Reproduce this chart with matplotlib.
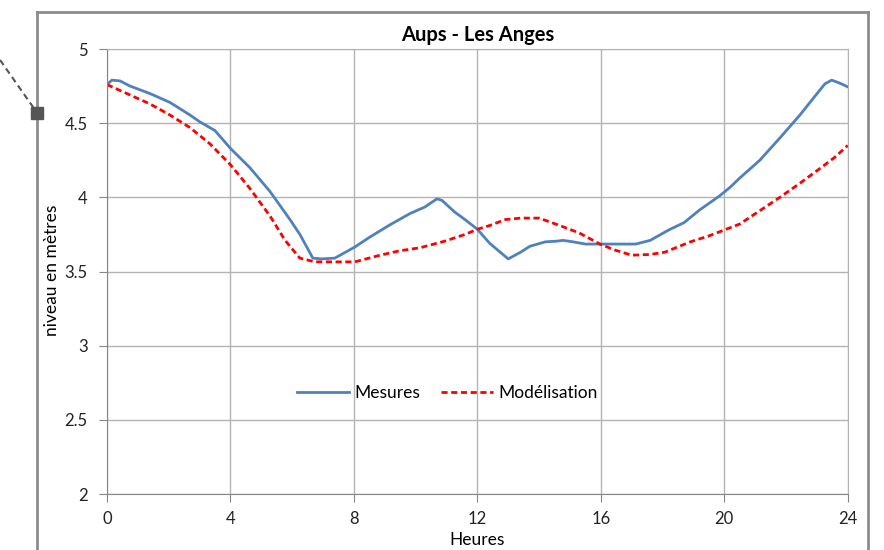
import matplotlib.pyplot as plt
from matplotlib.lines import Line2D

plt.rcParams['font.family'] = ['Lato', 'DejaVu Sans']

# Mesures (heures, niveau)
mes_h = [0, 0.16, 0.42, 0.75, 1.39, 2.04, 2.69, 3.0, 3.5, 4.0, 4.63, 5.28, 5.93, 6.25,
         6.67, 6.96, 7.38, 8.03, 8.5, 9.17, 9.81, 10.3, 10.69, 10.85, 11.27, 11.6, 12.0,
         12.4, 13.0, 13.4, 13.7, 14.2, 14.6, 14.77, 15.1, 15.5, 15.97, 17.13, 17.6, 18.2,
         18.7, 19.2, 19.85, 20.2, 20.5, 21.15, 21.8, 22.45, 22.93, 23.26, 23.48, 23.74, 24.0]
mes_v = [4.76, 4.79, 4.785, 4.75, 4.70, 4.64, 4.555, 4.51, 4.45, 4.33, 4.20, 4.04, 3.85, 3.75,
         3.59, 3.585, 3.59, 3.665, 3.73, 3.815, 3.89, 3.935, 3.99, 3.98, 3.90, 3.85, 3.785,
         3.69, 3.585, 3.63, 3.67, 3.70, 3.705, 3.71, 3.70, 3.685, 3.685, 3.685, 3.71, 3.78,
         3.83, 3.915, 4.01, 4.07, 4.13, 4.25, 4.40, 4.555, 4.68, 4.765, 4.79, 4.77, 4.745]

# Modélisation (heures, niveau)
mod_h = [0, 0.75, 1.39, 2.04, 2.69, 3.34, 4.0, 4.63, 5.28, 5.77, 6.25, 6.74, 7.55, 8.03,
         8.85, 9.49, 10.14, 10.95, 11.6, 12.0, 12.4, 12.9, 13.4, 14.0, 14.67, 15.3, 15.97,
         16.45, 17.0, 17.6, 18.07, 18.9, 19.5, 20.0, 20.5, 21.15, 21.8, 22.45, 23.1, 23.58, 24.0]
mod_v = [4.76, 4.69, 4.63, 4.555, 4.47, 4.36, 4.22, 4.06, 3.875, 3.71, 3.59, 3.565, 3.565, 3.565,
         3.61, 3.64, 3.66, 3.705, 3.75, 3.785, 3.81, 3.85, 3.86, 3.86, 3.81, 3.76, 3.685,
         3.645, 3.61, 3.615, 3.63, 3.70, 3.74, 3.78, 3.82, 3.91, 4.00, 4.095, 4.195, 4.27, 4.35]

x_ticks = [0, 4, 8, 12, 16, 20, 24]
y_ticks = [2, 2.5, 3, 3.5, 4, 4.5, 5]

fig = plt.figure(figsize=(8.84, 5.5), dpi=100)
ax = fig.add_axes([0.121, 0.1018, 0.838, 0.8091])

ax.plot(mes_h, mes_v, color='#4F81BD', lw=2.0, label='Mesures')
ax.plot(mod_h, mod_v, color='#FF0000', lw=2.0, ls=(0, (2.2, 1.3)), label='Modélisation')

ax.set_xlim(0, 24)
ax.set_ylim(2, 5)
ax.set_xticks(x_ticks)
ax.set_yticks(y_ticks)
ax.set_yticklabels([f'{v:g}' for v in y_ticks])
ax.grid(True, color='#b3b3b3', lw=1.0)
ax.set_axisbelow(True)
for side in ['top', 'right']:
    ax.spines[side].set_color('#b3b3b3')
for side in ['bottom', 'left']:
    ax.spines[side].set_color('#868686')
ax.tick_params(axis='both', length=6, color='#868686', labelsize=12, labelcolor='#222222')
ax.tick_params(axis='x', pad=6)
ax.tick_params(axis='y', pad=8)

ax.set_title('Aups - Les Anges', fontsize=14.5, fontweight='bold', pad=6)
ax.set_xlabel('Heures', fontsize=12.5)
ax.set_ylabel('niveau en mètres', fontsize=12.5)
ax.xaxis.set_label_coords(0.5, -0.085)
ax.yaxis.set_label_coords(-0.063, 0.503)

ax.legend(loc='center', bbox_to_anchor=(0.46, 0.227), ncol=2, frameon=False,
          fontsize=12.5, handlelength=3.0, handletextpad=0.3, columnspacing=1.2)

# cadre du graphique
frame_c = '#8c8c8c'
fig.add_artist(Line2D([0.0419, 0.0419], [0, 0.978], color=frame_c, lw=2))
fig.add_artist(Line2D([0.982, 0.982], [0, 0.978], color=frame_c, lw=2))
fig.add_artist(Line2D([0.0419, 0.982], [0.978, 0.978], color=frame_c, lw=2))

# flèche en pointillés
fig.add_artist(Line2D([0.0, 0.0419], [0.891, 0.795], color='#555555', lw=1.5, ls=(0, (3, 2))))
fig.add_artist(Line2D([0.0419], [0.795], color='#555555', marker='s', markersize=8, lw=0))

fig.savefig('out.png', dpi=100)
